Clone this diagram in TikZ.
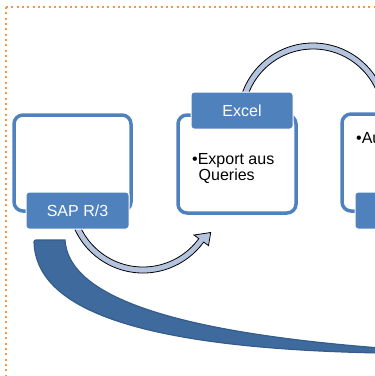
\documentclass[tikz,border=0pt]{standalone}
\usepackage{fontspec}
\setmainfont{Liberation Sans}
\definecolor{boxblue}{HTML}{4F81BD}
\definecolor{arcfill}{HTML}{B4C4DE}
\definecolor{darkblue}{HTML}{3E6A9E}
\definecolor{darkblue2}{HTML}{355C8A}
\definecolor{dotorange}{HTML}{F79646}
\begin{document}
\begin{tikzpicture}[x=1pt,y=-1pt,
  box/.style={draw=boxblue, line width=3.5pt, rounded corners=9pt, inner sep=0pt},
  lbl/.style={fill=boxblue, draw=white, line width=1pt, rounded corners=3pt, text=white,
    font=\fontsize{16}{18}\selectfont, inner sep=0pt, minimum width=103pt, minimum height=37pt},
  body/.style={text=black, font=\fontsize{16}{18}\selectfont, inner sep=0pt},
  arcarrow/.style={fill=arcfill, draw=black, line width=0.8pt},
  bigarrow/.style={fill=darkblue, draw=darkblue2, line width=1.2pt},
  dotline/.style={draw=dotorange, line width=2pt, dash pattern=on 2pt off 3.33pt}]
\useasboundingbox (0,0) rectangle (375,376);
\clip (0,0) rectangle (375,376);
% dotted frame
\coordinate (fc) at (6,7);
\coordinate (fr) at (420,7);
\coordinate (fb) at (6,420);
\draw[dotline] (fc) -- (fr);
\draw[dotline] (fc) -- (fb);
% big dark arrow
\coordinate (da) at (65,240);
\coordinate (db) at (380,348);
\coordinate (dc) at (380,353);
\coordinate (dd) at (34,242);
\draw[bigarrow] (da) .. controls (68,290) and (150,330) .. (db) -- (dc)
  .. controls (125,348) and (36,305) .. (dd)
  arc[start angle=180, end angle=270, radius=2] -- cycle;
% outer boxes
\node[box, minimum width=117pt, minimum height=96pt] (b1) at (72.5,163) {};
\node[box, minimum width=118pt, minimum height=98pt] (b2) at (237,164) {};
\node[box, minimum width=118pt, minimum height=97pt] (b3) at (401,162.5) {};
% curved arrows
\coordinate (c1) at (143,198);
\coordinate (c2) at (313,118);
\draw[arcarrow] ([shift={(160:75)}]c1) arc[start angle=160, end angle=36, radius=75]
  -- ([shift={(36:81)}]c1) -- ([shift={(27:76)}]c1) -- ([shift={(36:63)}]c1)
  -- ([shift={(36:69)}]c1) arc[start angle=36, end angle=160, radius=69] -- cycle;
\draw[arcarrow] ([shift={(190:75)}]c2) arc[start angle=190, end angle=350, radius=75]
  -- ([shift={(350:69)}]c2) arc[start angle=350, end angle=190, radius=69] -- cycle;
% label boxes
\node[lbl] (l1) at (77.5,210.5) {SAP R/3};
\node[lbl, minimum width=102pt] (l2) at (242,110.5) {Excel};
\node[lbl] (l3) at (406.5,210.5) {};
% body texts
\node[body, anchor=base west] (t2a) at (192,164) {•Export aus};
\node[body, anchor=base west] (t2b) at (198.5,180) {Queries};
\node[body, anchor=base west] (t3) at (356,143) {•Auswertung};
\end{tikzpicture}
\end{document}
